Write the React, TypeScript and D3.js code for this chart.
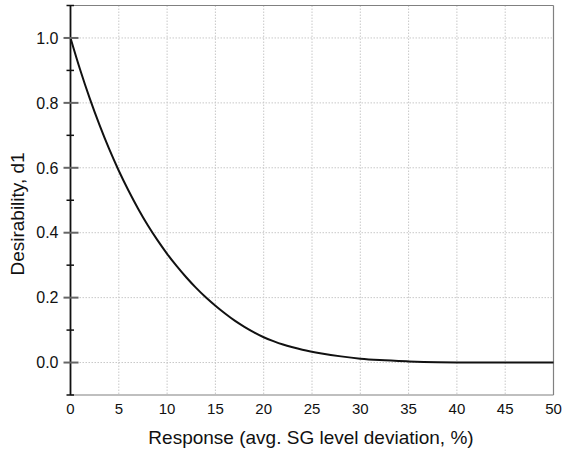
import React from "react";
import * as d3 from "d3";

const xValues = [0, 1, 2, 3, 4, 5, 6, 7, 8, 9, 10, 11, 12, 13, 14, 15, 16, 17, 18, 19, 20, 21, 22, 23, 24, 26, 28, 30, 32, 35, 38, 40, 45, 50];
const dValues = [1.0, 0.902, 0.813, 0.732, 0.658, 0.591, 0.53, 0.474, 0.423, 0.377, 0.335, 0.297, 0.262, 0.23, 0.201, 0.175, 0.151, 0.129, 0.11, 0.093, 0.078, 0.066, 0.0555, 0.047, 0.0395, 0.028, 0.019, 0.012, 0.0075, 0.0035, 0.001, 0.0003, 0, 0];
const xTicks = [0, 5, 10, 15, 20, 25, 30, 35, 40, 45, 50];
const yMajorTicks = [0, 0.2, 0.4, 0.6, 0.8, 1.0];
const yMinorTicks = [-0.1, 0.1, 0.3, 0.5, 0.7, 0.9, 1.1];
const xLabel = "Response (avg. SG level deviation, %)";
const yLabel = "Desirability, d1";

export default function App() {
  const W = 562, H = 451;
  const left = 70.5, right = 553.5, top = 5.5, bottom = 395;
  const x = d3.scaleLinear().domain([0, 50]).range([left, right]);
  const y = d3.scaleLinear().domain([-0.1, 1.1]).range([bottom, top]);
  const pts = xValues.map((v, i) => [v, dValues[i]] as [number, number]);
  const line = d3.line<[number, number]>().x(d => x(d[0])).y(d => y(d[1])).curve(d3.curveMonotoneX);
  const font = "Arial, 'Liberation Sans', sans-serif";
  return (
    <svg width={W} height={H} style={{ position: "absolute", left: 0, top: 0, background: "#fff" }} fontFamily={font}>
      <rect x={0} y={0} width={W} height={H} fill="#fff" />
      {xTicks.filter(t => t > 0 && t < 50).map(t => (
        <line key={"gx" + t} x1={x(t)} x2={x(t)} y1={top} y2={bottom} stroke="#c8c8c8" strokeWidth={1} strokeDasharray="1.5,1.5" />
      ))}
      {yMajorTicks.map(t => (
        <line key={"gy" + t} x1={left} x2={right} y1={y(t)} y2={y(t)} stroke="#c8c8c8" strokeWidth={1} strokeDasharray="1.5,1.5" />
      ))}
      <line x1={left} x2={right} y1={top} y2={top} stroke="#808080" strokeWidth={1.2} />
      <line x1={right} x2={right} y1={top} y2={bottom} stroke="#808080" strokeWidth={1.2} />
      <line x1={left} x2={right} y1={bottom} y2={bottom} stroke="#808080" strokeWidth={1.2} />
      <path d={line(pts) || ""} fill="none" stroke="#111" strokeWidth={2} />
      <line x1={left} x2={left} y1={top} y2={bottom} stroke="#111" strokeWidth={1.8} />
      {yMajorTicks.map(t => (
        <line key={"mj" + t} x1={left - 7} x2={left + 8} y1={y(t)} y2={y(t)} stroke="#666" strokeWidth={2} />
      ))}
      {yMinorTicks.map(t => (
        <line key={"mn" + t} x1={left - 4} x2={left + 3.5} y1={y(t)} y2={y(t)} stroke="#111" strokeWidth={1.5} />
      ))}
      {yMajorTicks.map(t => (
        <text key={"yl" + t} x={58.5} y={y(t)} dy="0.36em" textAnchor="end" fontSize={16} fill="#111">{t.toFixed(1)}</text>
      ))}
      {xTicks.map(t => (
        <text key={"xl" + t} x={x(t)} y={413.5} textAnchor="middle" fontSize={15} fill="#111">{t}</text>
      ))}
      <text x={311} y={443.5} textAnchor="middle" fontSize={19} fill="#111">{xLabel}</text>
      <text transform={`translate(24,214) rotate(-90)`} textAnchor="middle" fontSize={19} fill="#111">{yLabel}</text>
    </svg>
  );
}
